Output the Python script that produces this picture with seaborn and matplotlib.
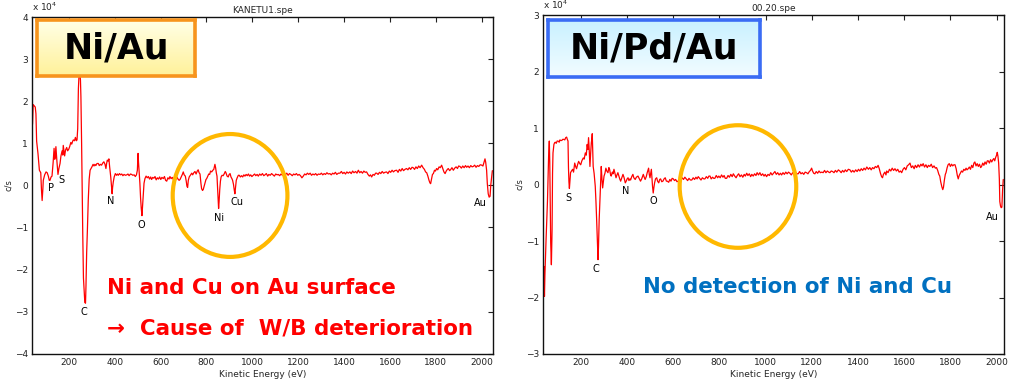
import numpy as np
import pandas as pd
import seaborn as sns
import matplotlib
matplotlib.use("Agg")
import matplotlib.pyplot as plt
from matplotlib.patches import Ellipse
from matplotlib.colors import LinearSegmentedColormap

# ---------------- data (c/s in units of 10^4) ----------------
left_energy = [
    42, 45, 48, 54, 57, 60, 66, 72, 78, 81,
    84, 87, 89, 95, 101, 106, 111, 115, 118, 123,
    127, 132, 136, 139, 141, 144, 148, 151, 153, 157,
    162, 166, 171, 174, 176, 180, 182, 186, 191, 195,
    200, 204, 209, 213, 217, 220, 225, 229, 233, 236,
    239, 242, 245, 248, 251, 253, 256, 259, 261, 264,
    267, 270, 273, 275, 278, 281, 285, 289, 293, 297,
    301, 306, 310, 314, 318, 323, 329, 333, 338, 343,
    348, 353, 358, 362, 365, 368, 372, 375, 378, 383,
    386, 389, 391, 394, 398, 403, 408, 412, 416, 421,
    426, 431, 436, 441, 447, 453, 458, 463, 469, 474,
    479, 485, 490, 495, 499, 502, 504, 507, 510, 513,
    516, 519, 522, 525, 528, 532, 537, 542, 547, 552,
    557, 561, 566, 571, 576, 581, 586, 591, 596, 601,
    606, 612, 617, 622, 627, 632, 637, 641, 646, 651,
    656, 661, 666, 671, 676, 681, 685, 690, 695, 699,
    703, 708, 712, 715, 718, 721, 725, 730, 736, 740,
    745, 750, 755, 760, 764, 768, 772, 776, 779, 783,
    786, 790, 794, 798, 801, 806, 810, 814, 818, 823,
    828, 832, 837, 840, 843, 846, 849, 851, 853, 855,
    858, 861, 864, 868, 873, 878, 882, 885, 890, 895,
    899, 903, 907, 911, 914, 918, 921, 924, 927, 930,
    934, 939, 943, 948, 953, 958, 963, 968, 973, 978,
    983, 988, 993, 998, 1004, 1010, 1015, 1021, 1026, 1032,
    1038, 1044, 1050, 1055, 1061, 1067, 1072, 1078, 1084, 1090,
    1096, 1102, 1108, 1113, 1119, 1125, 1131, 1137, 1143, 1150,
    1156, 1162, 1168, 1174, 1180, 1186, 1192, 1198, 1204, 1210,
    1216, 1222, 1228, 1234, 1240, 1246, 1252, 1258, 1264, 1270,
    1276, 1282, 1288, 1295, 1301, 1307, 1313, 1319, 1325, 1331,
    1338, 1344, 1350, 1356, 1362, 1368, 1375, 1382, 1388, 1394,
    1400, 1406, 1412, 1418, 1425, 1431, 1437, 1443, 1450, 1456,
    1462, 1468, 1474, 1480, 1486, 1492, 1498, 1504, 1510, 1515,
    1520, 1526, 1532, 1537, 1542, 1548, 1554, 1560, 1566, 1572,
    1578, 1585, 1591, 1597, 1603, 1609, 1615, 1621, 1629, 1635,
    1641, 1647, 1653, 1659, 1665, 1672, 1678, 1684, 1690, 1696,
    1701, 1707, 1713, 1719, 1725, 1731, 1738, 1744, 1750, 1755,
    1760, 1765, 1770, 1774, 1777, 1781, 1785, 1789, 1794, 1798,
    1803, 1808, 1814, 1819, 1825, 1830, 1835, 1840, 1845, 1850,
    1854, 1860, 1865, 1870, 1876, 1882, 1888, 1894, 1899, 1905,
    1911, 1917, 1923, 1929, 1934, 1940, 1946, 1952, 1958, 1963,
    1969, 1975, 1981, 1987, 1993, 2000, 2005, 2010, 2014, 2017,
    2021, 2024, 2028, 2032, 2036, 2039, 2043, 2046,
]
left_counts = [
    1.45, 1.92, 1.90, 1.86, 1.70, 1.05, 0.75, 0.36, 0.30, -0.10,
    -0.36, -0.10, 0.12, 0.25, 0.32, 0.30, 0.22, 0.12, 0.12, 0.20,
    0.22, 0.55, 0.88, 0.62, 0.68, 0.92, 0.60, 0.40, 0.26, 0.40,
    0.52, 0.70, 0.82, 0.72, 0.95, 0.78, 0.70, 0.84, 0.90, 0.82,
    0.86, 0.92, 1.02, 0.98, 1.05, 1.08, 1.06, 1.14, 1.06, 1.08,
    1.35, 2.30, 2.65, 2.72, 2.50, 2.10, 1.00, -0.40, -1.15, -2.20,
    -2.50, -2.78, -2.80, -2.40, -1.60, -1.10, -0.35, 0.15, 0.36, 0.40,
    0.44, 0.50, 0.46, 0.50, 0.47, 0.52, 0.52, 0.47, 0.50, 0.48,
    0.53, 0.56, 0.50, 0.40, 0.52, 0.60, 0.58, 0.63, 0.45, 0.20,
    0.00, -0.20, -0.05, 0.08, 0.20, 0.28, 0.24, 0.27, 0.24, 0.28,
    0.25, 0.27, 0.23, 0.26, 0.24, 0.25, 0.27, 0.23, 0.27, 0.26,
    0.24, 0.25, 0.21, 0.25, 0.36, 0.76, 0.55, 0.30, 0.05, -0.30,
    -0.55, -0.72, -0.45, -0.20, 0.05, 0.16, 0.22, 0.18, 0.21, 0.15,
    0.20, 0.14, 0.19, 0.17, 0.21, 0.13, 0.18, 0.15, 0.20, 0.14,
    0.19, 0.16, 0.21, 0.12, 0.10, 0.18, 0.15, 0.21, 0.16, 0.19,
    0.14, 0.18, 0.13, 0.20, 0.15, 0.12, 0.14, 0.20, 0.26, 0.32,
    0.25, 0.22, 0.10, -0.02, -0.05, 0.12, 0.20, 0.24, 0.29, 0.25,
    0.30, 0.33, 0.27, 0.34, 0.37, 0.30, 0.27, 0.05, -0.08, -0.12,
    -0.10, -0.02, 0.05, 0.14, 0.16, 0.22, 0.27, 0.26, 0.34, 0.32,
    0.36, 0.38, 0.50, 0.42, 0.30, 0.22, -0.10, -0.35, -0.55, -0.40,
    -0.10, 0.10, 0.20, 0.24, 0.23, 0.28, 0.33, 0.30, 0.22, 0.20,
    0.26, 0.28, 0.20, 0.16, 0.12, 0.02, -0.10, -0.20, -0.05, 0.12,
    0.18, 0.24, 0.24, 0.20, 0.23, 0.20, 0.25, 0.22, 0.26, 0.23,
    0.27, 0.22, 0.25, 0.21, 0.24, 0.27, 0.23, 0.26, 0.22, 0.27,
    0.24, 0.28, 0.23, 0.25, 0.28, 0.22, 0.26, 0.24, 0.28, 0.25,
    0.22, 0.27, 0.25, 0.26, 0.23, 0.27, 0.24, 0.28, 0.25, 0.29,
    0.24, 0.28, 0.26, 0.23, 0.27, 0.25, 0.28, 0.24, 0.26, 0.23,
    0.18, 0.22, 0.27, 0.25, 0.29, 0.26, 0.29, 0.24, 0.27, 0.25,
    0.28, 0.24, 0.27, 0.26, 0.29, 0.25, 0.28, 0.26, 0.30, 0.27,
    0.28, 0.25, 0.29, 0.27, 0.31, 0.26, 0.29, 0.29, 0.33, 0.28,
    0.31, 0.27, 0.32, 0.29, 0.32, 0.28, 0.34, 0.30, 0.33, 0.29,
    0.36, 0.30, 0.33, 0.29, 0.34, 0.31, 0.32, 0.26, 0.22, 0.25,
    0.20, 0.26, 0.24, 0.29, 0.29, 0.26, 0.31, 0.28, 0.33, 0.29,
    0.31, 0.32, 0.28, 0.34, 0.31, 0.36, 0.32, 0.35, 0.36, 0.31,
    0.38, 0.34, 0.40, 0.35, 0.38, 0.40, 0.37, 0.42, 0.38, 0.43,
    0.42, 0.38, 0.44, 0.40, 0.46, 0.42, 0.48, 0.42, 0.38, 0.32,
    0.30, 0.22, 0.12, 0.06, 0.04, 0.15, 0.26, 0.28, 0.36, 0.34,
    0.40, 0.37, 0.44, 0.42, 0.48, 0.40, 0.32, 0.28, 0.34, 0.38,
    0.40, 0.35, 0.38, 0.42, 0.36, 0.41, 0.44, 0.40, 0.46, 0.45,
    0.41, 0.46, 0.42, 0.47, 0.43, 0.46, 0.42, 0.47, 0.44, 0.45,
    0.48, 0.43, 0.47, 0.45, 0.49, 0.48, 0.46, 0.55, 0.63, 0.55,
    0.36, 0.05, -0.20, -0.28, -0.26, 0.00, 0.20, 0.35,
]

right_energy = [
    40, 42, 44, 47, 49, 52, 55, 58, 60, 63,
    65, 67, 69, 72, 75, 77, 79, 83, 86, 89,
    93, 97, 101, 106, 109, 112, 117, 121, 126, 130,
    134, 138, 141, 144, 146, 148, 150, 152, 155, 159,
    164, 168, 173, 177, 181, 186, 190, 195, 199, 204,
    210, 214, 219, 223, 227, 230, 233, 236, 239, 242,
    245, 247, 249, 251, 253, 257, 262, 265, 268, 271,
    274, 276, 279, 282, 285, 288, 291, 294, 297, 300,
    304, 308, 312, 317, 321, 324, 328, 331, 336, 339,
    343, 347, 352, 356, 360, 365, 368, 372, 377, 382,
    387, 392, 396, 400, 404, 408, 412, 415, 420, 425,
    429, 435, 440, 447, 452, 458, 463, 470, 474, 478,
    483, 487, 490, 493, 496, 499, 502, 505, 508, 510,
    513, 516, 519, 523, 528, 532, 537, 541, 545, 550,
    555, 560, 565, 570, 574, 580, 585, 590, 595, 600,
    605, 610, 616, 621, 627, 632, 638, 644, 650, 656,
    662, 668, 674, 680, 686, 692, 698, 703, 708, 714,
    720, 726, 732, 737, 743, 749, 754, 759, 764, 770,
    775, 780, 786, 792, 797, 803, 809, 815, 820, 825,
    831, 837, 843, 849, 855, 860, 866, 872, 877, 883,
    889, 895, 901, 907, 912, 918, 923, 929, 935, 940,
    946, 952, 958, 963, 969, 975, 981, 987, 993, 998,
    1004, 1010, 1016, 1022, 1028, 1034, 1040, 1046, 1052, 1058,
    1064, 1069, 1075, 1081, 1087, 1093, 1099, 1105, 1111, 1117,
    1123, 1129, 1135, 1141, 1147, 1153, 1159, 1165, 1171, 1177,
    1183, 1189, 1194, 1199, 1203, 1208, 1213, 1219, 1225, 1231,
    1237, 1243, 1249, 1255, 1261, 1267, 1273, 1278, 1284, 1290,
    1296, 1302, 1308, 1315, 1321, 1327, 1333, 1339, 1345, 1351,
    1358, 1365, 1371, 1377, 1383, 1390, 1396, 1402, 1408, 1414,
    1420, 1426, 1432, 1438, 1445, 1451, 1457, 1463, 1469, 1475,
    1481, 1487, 1492, 1497, 1502, 1506, 1510, 1516, 1521, 1524,
    1530, 1536, 1542, 1548, 1554, 1560, 1566, 1572, 1578, 1584,
    1589, 1595, 1601, 1607, 1613, 1619, 1625, 1631, 1637, 1643,
    1648, 1654, 1660, 1666, 1672, 1677, 1682, 1688, 1694, 1700,
    1705, 1711, 1717, 1723, 1729, 1735, 1740, 1745, 1750, 1754,
    1758, 1763, 1767, 1770, 1774, 1778, 1781, 1786, 1790, 1795,
    1800, 1805, 1810, 1815, 1820, 1825, 1830, 1834, 1838, 1843,
    1848, 1853, 1858, 1863, 1868, 1872, 1877, 1882, 1887, 1892,
    1897, 1902, 1906, 1911, 1916, 1921, 1926, 1931, 1935, 1940,
    1945, 1950, 1955, 1960, 1964, 1969, 1974, 1979, 1984, 1988,
    1992, 1996, 2000, 2003, 2006, 2009, 2012, 2014, 2017, 2020,
    2023, 2026, 2029,
]
right_counts = [
    -1.45, -1.98, -1.60, -1.20, -0.97, -0.62, -0.30, 0.20, 0.50, 0.77,
    0.40, -0.40, -1.03, -1.42, -0.80, 0.20, 0.56, 0.71, 0.74, 0.75,
    0.73, 0.77, 0.77, 0.75, 0.79, 0.78, 0.78, 0.80, 0.80, 0.79,
    0.83, 0.84, 0.80, 0.77, 0.30, 0.05, -0.07, 0.05, 0.21, 0.24,
    0.27, 0.22, 0.38, 0.32, 0.28, 0.36, 0.41, 0.37, 0.35, 0.42,
    0.47, 0.45, 0.56, 0.52, 0.71, 0.62, 0.83, 0.60, 0.32, 0.55,
    0.74, 0.80, 0.90, 0.60, 0.32, 0.20, -0.03, -0.30, -0.62, -1.00,
    -1.33, -1.10, -0.62, -0.30, 0.00, 0.32, 0.10, -0.06, 0.05, 0.15,
    0.20, 0.29, 0.24, 0.21, 0.30, 0.27, 0.18, 0.15, 0.22, 0.19,
    0.27, 0.20, 0.12, 0.17, 0.21, 0.14, 0.10, 0.06, 0.12, 0.18,
    0.12, 0.03, 0.06, 0.10, 0.12, 0.07, 0.10, 0.08, 0.14, 0.18,
    0.12, 0.09, 0.13, 0.15, 0.11, 0.06, 0.10, 0.18, 0.13, 0.09,
    0.14, 0.21, 0.25, 0.29, 0.18, 0.12, 0.20, 0.27, 0.08, -0.03,
    -0.15, -0.05, 0.03, 0.10, 0.12, 0.06, 0.03, 0.09, 0.10, 0.05,
    0.06, 0.10, 0.12, 0.06, 0.06, 0.04, 0.09, 0.06, 0.11, 0.10,
    0.07, 0.09, 0.05, 0.06, 0.10, 0.08, 0.12, 0.09, 0.13, 0.10,
    0.07, 0.11, 0.08, 0.08, 0.12, 0.09, 0.13, 0.10, 0.14, 0.11,
    0.08, 0.12, 0.10, 0.10, 0.14, 0.11, 0.15, 0.15, 0.10, 0.13,
    0.11, 0.11, 0.16, 0.12, 0.15, 0.12, 0.17, 0.13, 0.16, 0.11,
    0.11, 0.16, 0.13, 0.18, 0.14, 0.19, 0.15, 0.12, 0.16, 0.19,
    0.14, 0.17, 0.13, 0.18, 0.15, 0.20, 0.16, 0.19, 0.14, 0.18,
    0.15, 0.19, 0.16, 0.21, 0.17, 0.21, 0.16, 0.19, 0.15, 0.18,
    0.14, 0.18, 0.16, 0.21, 0.17, 0.20, 0.23, 0.18, 0.21, 0.17,
    0.20, 0.17, 0.21, 0.18, 0.22, 0.19, 0.22, 0.20, 0.17, 0.21,
    0.18, 0.22, 0.19, 0.19, 0.23, 0.19, 0.21, 0.18, 0.22, 0.21,
    0.19, 0.23, 0.25, 0.29, 0.24, 0.20, 0.19, 0.23, 0.20, 0.24,
    0.21, 0.22, 0.21, 0.25, 0.21, 0.24, 0.22, 0.21, 0.24, 0.23,
    0.21, 0.25, 0.22, 0.26, 0.24, 0.21, 0.25, 0.22, 0.26, 0.23,
    0.27, 0.26, 0.22, 0.25, 0.22, 0.26, 0.23, 0.27, 0.24, 0.28,
    0.25, 0.29, 0.26, 0.31, 0.27, 0.30, 0.26, 0.30, 0.28, 0.32,
    0.30, 0.34, 0.28, 0.20, 0.14, 0.12, 0.18, 0.22, 0.17, 0.24,
    0.21, 0.27, 0.24, 0.29, 0.25, 0.28, 0.24, 0.27, 0.22, 0.24,
    0.21, 0.27, 0.30, 0.26, 0.33, 0.35, 0.38, 0.30, 0.33, 0.28,
    0.34, 0.30, 0.35, 0.31, 0.36, 0.33, 0.37, 0.31, 0.35, 0.30,
    0.34, 0.32, 0.36, 0.30, 0.33, 0.29, 0.30, 0.25, 0.18, 0.15,
    0.05, -0.04, -0.09, -0.05, 0.08, 0.18, 0.21, 0.30, 0.35, 0.37,
    0.32, 0.36, 0.33, 0.35, 0.35, 0.28, 0.16, 0.10, 0.16, 0.20,
    0.24, 0.22, 0.27, 0.25, 0.29, 0.26, 0.28, 0.31, 0.27, 0.34,
    0.30, 0.38, 0.40, 0.33, 0.37, 0.32, 0.36, 0.30, 0.32, 0.38,
    0.34, 0.40, 0.36, 0.42, 0.42, 0.38, 0.44, 0.40, 0.44, 0.46,
    0.42, 0.48, 0.52, 0.57, 0.50, 0.38, 0.10, -0.30, -0.38, -0.41,
    -0.40, -0.10, 0.09,
]

x_ticks = [200, 400, 600, 800, 1000, 1200, 1400, 1600, 1800, 2000]
left_yticks = [-4, -3, -2, -1, 0, 1, 2, 3, 4]
right_yticks = [-3, -2, -1, 0, 1, 2, 3]

left_peaks = ["P", "S", "N", "O", "C", "Ni", "Cu", "Au"]
left_peak_E = [121, 166, 383, 516, 267, 855, 935, 1992]
left_peak_v = [-0.06, 0.12, -0.36, -0.93, -3.02, -0.77, -0.40, -0.42]
right_peaks = ["S", "N", "O", "C", "Au"]
right_peak_E = [144, 392, 512, 266, 1981]
right_peak_v = [-0.24, -0.12, -0.30, -1.50, -0.57]

# ---------------- figure ----------------
sns.set_theme(style="white")
plt.rcParams["font.family"] = ["DejaVu Sans"]

fig = plt.figure(figsize=(10.14, 3.87), dpi=100)
ax1 = fig.add_axes([0.0316, 0.086, 0.4544, 0.870])
ax2 = fig.add_axes([0.5358, 0.0853, 0.4543, 0.8757])

left_df = pd.DataFrame({"E": left_energy, "cps": left_counts})
right_df = pd.DataFrame({"E": right_energy, "cps": right_counts})

sns.lineplot(data=left_df, x="E", y="cps", ax=ax1, color="#ff0000",
             linewidth=0.9, estimator=None)
sns.lineplot(data=right_df, x="E", y="cps", ax=ax2, color="#ff0000",
             linewidth=0.9, estimator=None)


def style_axis(ax, xlim, ylim, yticks, title):
    ax.set_xlim(*xlim)
    ax.set_ylim(*ylim)
    ax.set_xticks(x_ticks)
    ax.set_yticks(yticks)
    ax.set_xticklabels([str(t) for t in x_ticks])
    ax.set_yticklabels([("\u2212" + str(-t)) if t < 0 else str(t) for t in yticks])
    ax.tick_params(direction="in", top=True, right=True, length=3.5,
                   width=0.8, labelsize=6.5, pad=3, colors="#222222")
    for s in ax.spines.values():
        s.set_color("#111111")
        s.set_linewidth(1.0)
    ax.set_xlabel("Kinetic Energy (eV)", fontsize=6.5, labelpad=2)
    ax.set_ylabel("c/s", fontsize=6, labelpad=1)
    ax.set_title(title, fontsize=6.5, pad=3)
    ax.text(0.0, 1.012, "x 10$^4$", transform=ax.transAxes, fontsize=6.5,
            ha="left", va="bottom")


style_axis(ax1, (40, 2048), (-4, 4), left_yticks, "KANETU1.spe")
style_axis(ax2, (37, 2032), (-3, 3), right_yticks, "00.20.spe")

for lab, e, v in zip(left_peaks, left_peak_E, left_peak_v):
    ax1.text(e, v, lab, fontsize=7, ha="center", va="center", color="black")
for lab, e, v in zip(right_peaks, right_peak_E, right_peak_v):
    ax2.text(e, v, lab, fontsize=7, ha="center", va="center", color="black")

# highlight circles
gold = "#FFB800"
ax1.add_patch(Ellipse((903, -0.24), 500, 2.92, fill=False, edgecolor=gold,
                      linewidth=3.0, zorder=5))
ax2.add_patch(Ellipse((880, -0.035), 505, 2.17, fill=False, edgecolor=gold,
                      linewidth=3.0, zorder=5))

# annotations
ax1.text(367, -2.45, "Ni and Cu on Au surface", color="#ff0000",
         fontsize=15.4, fontweight="bold", ha="left", va="center")
ax1.text(367, -3.40, "\u2192  Cause of  W/B deterioration", color="#ff0000",
         fontsize=15.4, fontweight="bold", ha="left", va="center")
ax2.text(469, -1.82, "No detection of Ni and Cu", color="#0070C0",
         fontsize=15.4, fontweight="bold", ha="left", va="center")


# gradient labelled boxes
def label_box(rect, text, c_top, c_bottom, edge):
    bx = fig.add_axes(rect, zorder=10)
    cmap = LinearSegmentedColormap.from_list("g", [c_top, c_bottom])
    grad = np.linspace(0, 1, 64).reshape(-1, 1)
    bx.imshow(grad, cmap=cmap, aspect="auto", extent=(0, 1, 0, 1), origin="upper")
    bx.set_xticks([])
    bx.set_yticks([])
    for s in bx.spines.values():
        s.set_color(edge)
        s.set_linewidth(2.6)
        s.set_visible(True)
    bx.text(0.5, 0.5, text, transform=bx.transAxes, ha="center", va="center",
            fontsize=25, fontweight="bold", color="black")


label_box([0.0365, 0.8036, 0.156, 0.1447], "Ni/Au", "#FFFFE6", "#FFF19A", "#F7941D")
label_box([0.5404, 0.801, 0.209, 0.147], "Ni/Pd/Au", "#C9F1FF", "#F2FCFF", "#3A6CF4")

fig.savefig("out.png", dpi=100)
